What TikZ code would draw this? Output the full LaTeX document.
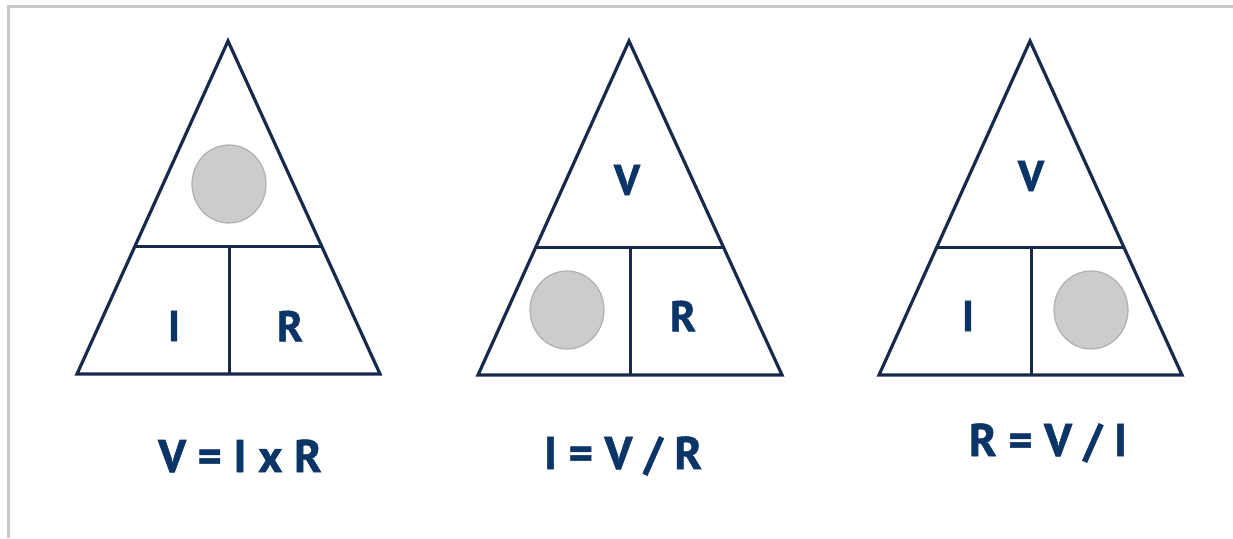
\documentclass[tikz,border=0pt]{standalone}
\usepackage{fontspec}
\setmainfont{PT Sans}[BoldFeatures={FakeBold=1.2}]
\usetikzlibrary{shapes.geometric}
\definecolor{navy}{HTML}{0B3566}
\definecolor{edge}{HTML}{172A4C}
\definecolor{dotfill}{HTML}{CCCCCC}
\definecolor{dotline}{HTML}{AFAFAF}
\definecolor{frame}{HTML}{C8C8C8}
\tikzset{
  tri/.style={draw=edge,line width=3.2pt,line join=miter,line cap=round},
  part/.style={draw=edge,line width=3pt},
  letter/.style={text=navy,font=\fontsize{43}{43}\selectfont\bfseries,inner sep=0pt},
  formula/.style={text=navy,font=\fontsize{46}{46}\selectfont\bfseries,inner sep=0pt},
  dot/.style={ellipse,draw=dotline,fill=dotfill,line width=1.2pt,minimum width=74pt,minimum height=78pt,inner sep=0pt}
}
\begin{document}
\begin{tikzpicture}[x=1pt,y=-1pt]
\useasboundingbox (0,0) rectangle (1233,538);
\draw[frame,line width=3pt] (8,538) -- (8,6) -- (1233,6);
% Triangle 1
\coordinate (a1) at (228,41); \coordinate (l1) at (77,374); \coordinate (r1) at (380,374);
\coordinate (ml1) at (134,246); \coordinate (mr1) at (321,246);
\coordinate (vt1) at (229,246); \coordinate (vb1) at (229,374);
\draw[tri] (a1) -- (l1) -- (r1) -- cycle;
\draw[part] (ml1) -- (mr1);
\draw[part] (vt1) -- (vb1);
\node[dot] (c1) at (229,184) {};
\node[letter] (i1) at (174,326) {I};
\node[letter] (r1t) at (290,326) {R};
\node[formula] (f1) at (240,456) {V = I x R};
% Triangle 2
\coordinate (a2) at (629,41); \coordinate (l2) at (478,375); \coordinate (r2) at (782,375);
\coordinate (ml2) at (536,247); \coordinate (mr2) at (723,247);
\coordinate (vt2) at (630,247); \coordinate (vb2) at (630,375);
\draw[tri] (a2) -- (l2) -- (r2) -- cycle;
\draw[part] (ml2) -- (mr2);
\draw[part] (vt2) -- (vb2);
\node[dot] (c2) at (567,310) {};
\node[letter] (v2) at (627,180) {V};
\node[letter] (r2t) at (683,316) {R};
\node[formula] (f2) at (623,456) {I = V / R};
% Triangle 3
\coordinate (a3) at (1030,41); \coordinate (l3) at (879,375); \coordinate (r3) at (1182,375);
\coordinate (ml3) at (937,247); \coordinate (mr3) at (1124,247);
\coordinate (vt3) at (1031,247); \coordinate (vb3) at (1031,375);
\draw[tri] (a3) -- (l3) -- (r3) -- cycle;
\draw[part] (ml3) -- (mr3);
\draw[part] (vt3) -- (vb3);
\node[dot] (c3) at (1091,310) {};
\node[letter] (v3) at (1031,176) {V};
\node[letter] (i3) at (968,316) {I};
\node[formula] (f3) at (1048,443) {R = V / I};
\end{tikzpicture}
\end{document}
